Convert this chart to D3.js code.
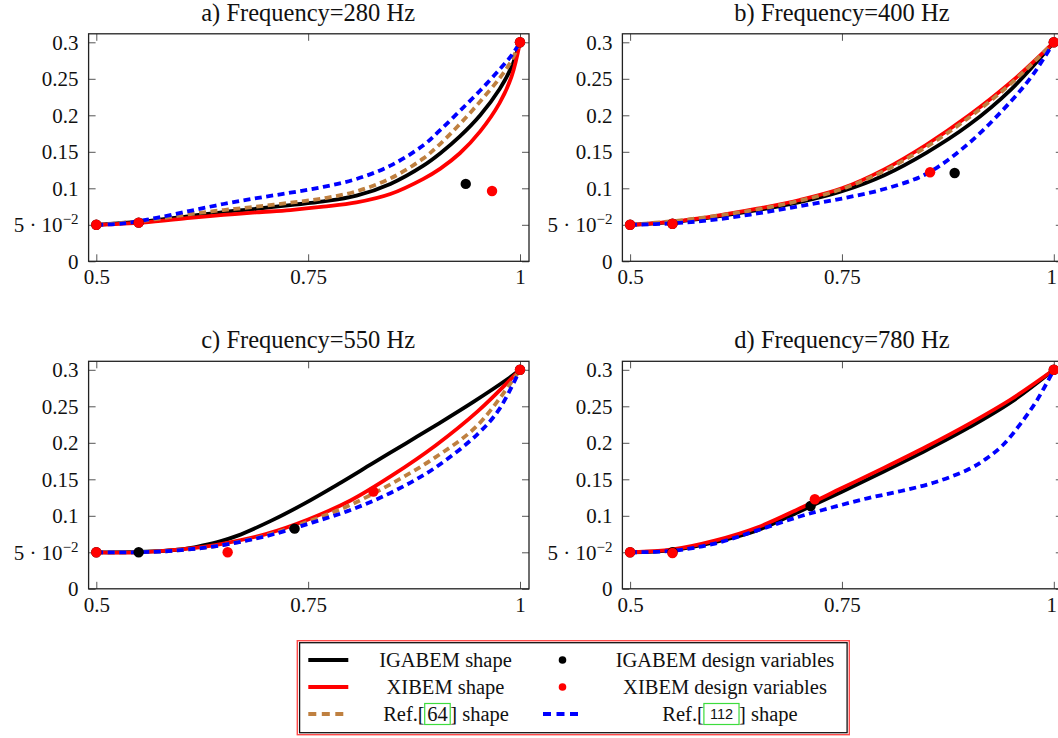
<!DOCTYPE html>
<html>
<head>
<meta charset="utf-8">
<script src="https://cdn.jsdelivr.net/npm/d3@7"></script>
<style>
  body { margin: 0; background: #fff; }
  svg { display: block; }
</style>
</head>
<body>
<svg id="chart" width="1058" height="738"></svg>
<script>
// ---- axis ticks ----
const xTicks = [0.5, 0.75, 1];
const xTickLabels = ["0.5", "0.75", "1"];
const yTicks = [0, 0.05, 0.1, 0.15, 0.2, 0.25, 0.3];
const yTickLabels = ["0", "5 · 10^−2", "0.1", "0.15", "0.2", "0.25", "0.3"];

const panelTitles = ["a) Frequency=280 Hz", "b) Frequency=400 Hz",
                     "c) Frequency=550 Hz", "d) Frequency=780 Hz"];

// ---- a) 280 Hz ----
const igabemShapeA = [[0.5,0.05],[0.555,0.0546],[0.611,0.062],[0.65,0.0675],[0.689,0.072],[0.729,0.077],[0.768,0.082],[0.807,0.09],[0.847,0.106],[0.886,0.131],[0.906,0.148],[0.929,0.171],[0.953,0.2],[0.976,0.236],[0.99,0.266],[1,0.3]];
const xibemShapeA  = [[0.5,0.05],[0.555,0.053],[0.611,0.0595],[0.65,0.0635],[0.689,0.067],[0.729,0.0702],[0.768,0.0748],[0.807,0.0807],[0.847,0.0922],[0.886,0.113],[0.906,0.127],[0.929,0.148],[0.953,0.178],[0.976,0.217],[0.99,0.253],[1,0.3]];
const ref64ShapeA  = [[0.5,0.05],[0.532,0.0528],[0.571,0.0578],[0.611,0.0647],[0.65,0.0702],[0.689,0.0748],[0.729,0.0803],[0.768,0.0862],[0.807,0.0959],[0.847,0.1135],[0.886,0.141],[0.906,0.161],[0.929,0.188],[0.953,0.219],[0.976,0.251],[0.99,0.275],[1,0.3]];
const ref112ShapeA = [[0.5,0.05],[0.532,0.0518],[0.571,0.0595],[0.611,0.0692],[0.65,0.0785],[0.689,0.0865],[0.729,0.094],[0.768,0.102],[0.807,0.1128],[0.847,0.131],[0.886,0.159],[0.906,0.18],[0.929,0.206],[0.953,0.234],[0.976,0.263],[0.99,0.282],[1,0.3]];
const igabemVarsA = [[0.5,0.05],[0.55,0.053],[0.936,0.106],[1,0.3]];
const xibemVarsA  = [[0.5,0.05],[0.55,0.053],[0.967,0.0963],[1,0.3]];

// ---- b) 400 Hz ----
const igabemShapeB = [[0.5,0.05],[0.55,0.054],[0.6,0.061],[0.65,0.07],[0.7,0.081],[0.75,0.096],[0.8,0.118],[0.85,0.149],[0.9,0.187],[0.95,0.236],[1,0.3]];
const xibemShapeB  = [[0.5,0.05],[0.55,0.0545],[0.6,0.062],[0.65,0.072],[0.7,0.084],[0.75,0.1],[0.8,0.126],[0.85,0.16],[0.9,0.2],[0.95,0.246],[1,0.3]];
const ref64ShapeB  = [[0.5,0.05],[0.55,0.055],[0.6,0.062],[0.65,0.071],[0.7,0.083],[0.75,0.099],[0.8,0.124],[0.85,0.157],[0.9,0.197],[0.95,0.244],[1,0.3]];
const ref112ShapeB = [[0.5,0.05],[0.55,0.052],[0.6,0.057],[0.65,0.0655],[0.7,0.0755],[0.75,0.086],[0.8,0.099],[0.85,0.12],[0.9,0.162],[0.95,0.22],[0.975,0.255],[1,0.3]];
const igabemVarsB = [[0.5,0.05],[0.55,0.0515],[0.883,0.121],[1,0.3]];
const xibemVarsB  = [[0.5,0.05],[0.55,0.0515],[0.854,0.122],[1,0.3]];

// ---- c) 550 Hz ----
const igabemShapeC = [[0.5,0.05],[0.55,0.0505],[0.6,0.054],[0.626,0.0595],[0.646,0.065],[0.666,0.0725],[0.706,0.093],[0.746,0.117],[0.785,0.143],[0.825,0.171],[0.865,0.199],[0.905,0.227],[0.945,0.256],[0.985,0.287],[1,0.3]];
const xibemShapeC  = [[0.5,0.05],[0.55,0.05],[0.6,0.054],[0.65,0.062],[0.7,0.075],[0.75,0.095],[0.8,0.121],[0.85,0.156],[0.9,0.196],[0.95,0.243],[1,0.3]];
const ref64ShapeC  = [[0.5,0.05],[0.55,0.05],[0.6,0.053],[0.65,0.06],[0.7,0.073],[0.75,0.092],[0.8,0.115],[0.85,0.145],[0.9,0.18],[0.95,0.224],[1,0.3]];
const ref112ShapeC = [[0.5,0.05],[0.55,0.05],[0.6,0.053],[0.65,0.06],[0.7,0.072],[0.75,0.089],[0.8,0.108],[0.85,0.133],[0.9,0.166],[0.95,0.212],[0.975,0.245],[1,0.3]];
const igabemVarsC = [[0.5,0.05],[0.55,0.05],[0.734,0.0824],[1,0.3]];
const xibemVarsC  = [[0.5,0.05],[0.655,0.05],[0.827,0.1333],[1,0.3]];

// ---- d) 780 Hz ----
const igabemShapeD = [[0.5,0.05],[0.55,0.053],[0.6,0.064],[0.65,0.08],[0.7,0.106],[0.75,0.133],[0.8,0.161],[0.85,0.19],[0.9,0.221],[0.95,0.256],[1,0.3]];
const xibemShapeD  = [[0.5,0.05],[0.55,0.054],[0.6,0.066],[0.65,0.084],[0.7,0.11],[0.75,0.138],[0.8,0.166],[0.85,0.195],[0.9,0.226],[0.95,0.26],[1,0.3]];
const ref64ShapeD  = [];
const ref112ShapeD = [[0.5,0.05],[0.55,0.052],[0.6,0.062],[0.65,0.08],[0.7,0.099],[0.74,0.112],[0.78,0.124],[0.82,0.134],[0.86,0.146],[0.9,0.164],[0.92,0.178],[0.94,0.197],[0.96,0.225],[0.98,0.258],[1,0.3]];
const igabemVarsD = [[0.5,0.05],[0.55,0.05],[0.713,0.1134],[1,0.3]];
const xibemVarsD  = [[0.5,0.05],[0.55,0.049],[0.718,0.1227],[1,0.3]];

const legendLabels = ["IGABEM shape", "XIBEM shape", "Ref.[64] shape",
                      "IGABEM design variables", "XIBEM design variables", "Ref.[112] shape"];

const panels = [
  { title: panelTitles[0], igabem: igabemShapeA, xibem: xibemShapeA, ref64: ref64ShapeA, ref112: ref112ShapeA, igabemVars: igabemVarsA, xibemVars: xibemVarsA },
  { title: panelTitles[1], igabem: igabemShapeB, xibem: xibemShapeB, ref64: ref64ShapeB, ref112: ref112ShapeB, igabemVars: igabemVarsB, xibemVars: xibemVarsB },
  { title: panelTitles[2], igabem: igabemShapeC, xibem: xibemShapeC, ref64: ref64ShapeC, ref112: ref112ShapeC, igabemVars: igabemVarsC, xibemVars: xibemVarsC },
  { title: panelTitles[3], igabem: igabemShapeD, xibem: xibemShapeD, ref64: ref64ShapeD, ref112: ref112ShapeD, igabemVars: igabemVarsD, xibemVars: xibemVarsD }
];

// ---- styles ----
const W = 1058;
const SERIF = "'Liberation Serif', 'Times New Roman', serif";
const SANS = "'Liberation Sans', Arial, sans-serif";
const COL = { black: "#000000", red: "#ff0000", brown: "#bf8040", blue: "#0000ff" };
const LW = 3.8;
const DASH = "7,4.5";
const LEGEND_DASH = "8,5.5";
const DOT_R = 5.2;

const svg = d3.select("#chart");

function drawPanel(p, i) {
  const col = i % 2, row = Math.floor(i / 2);
  const xLeft = col ? 630.1 : 96.3;
  const yBottom = row ? 588.8 : 261.3;
  const x = d3.scaleLinear().domain([0.5, 1]).range([xLeft, xLeft + 423.7]);
  const y = d3.scaleLinear().domain([0, 0.3]).range([yBottom, yBottom - 219]);

  const fL = x(0.5) - 7.7, fR = x(1) + 9, fT = y(0.3) - 8.5, fB = y(0);
  const g = svg.append("g");

  // inward ticks on all four sides
  const tickLen = 7;
  const axB = g.append("g").attr("transform", `translate(0,${fB})`)
    .call(d3.axisBottom(x).tickValues(xTicks).tickSize(-tickLen).tickPadding(8)
      .tickFormat((d, k) => xTickLabels[k]));
  const axT = g.append("g").attr("transform", `translate(0,${fT})`)
    .call(d3.axisTop(x).tickValues(xTicks).tickSize(-tickLen).tickFormat(""));
  const axL = g.append("g").attr("transform", `translate(${fL},0)`)
    .call(d3.axisLeft(y).tickValues(yTicks).tickSize(-tickLen).tickPadding(10)
      .tickFormat((d, k) => yTickLabels[k]));
  const axR = g.append("g").attr("transform", `translate(${fR},0)`)
    .call(d3.axisRight(y).tickValues(yTicks).tickSize(-tickLen).tickFormat(""));

  [axB, axT, axL, axR].forEach(a => {
    a.select(".domain").remove();
    a.selectAll(".tick line").attr("stroke", "#555").attr("stroke-width", 1);
    a.selectAll("text").attr("font-family", SERIF).attr("font-size", 21).attr("fill", "#111");
  });
  // keep bottom labels inside the drawing width
  axB.selectAll("text").each(function () {
    const b = this.getBoundingClientRect();
    if (b.right > W - 1) d3.select(this).attr("dx", -(b.right - (W - 1)));
  });
  // exponent labels such as 5 · 10^−2
  axL.selectAll("text").each(function () {
    const t = d3.select(this);
    const s = t.text();
    if (s.includes("^")) {
      const [base, exp] = s.split("^");
      t.text(base);
      t.append("tspan").attr("dy", -8).attr("font-size", 15).text(exp);
    }
  });

  // frame
  g.append("rect").attr("x", fL).attr("y", fT).attr("width", fR - fL).attr("height", fB - fT)
    .attr("fill", "none").attr("stroke", "#222").attr("stroke-width", 1.3);

  // title
  g.append("text").attr("x", (x(0.5) + x(1)) / 2).attr("y", fT - 13)
    .attr("text-anchor", "middle").attr("font-family", SERIF).attr("font-size", 24.5)
    .attr("fill", "#111").text(p.title);

  const line = d3.line().x(d => x(d[0])).y(d => y(d[1])).curve(d3.curveCatmullRom.alpha(0.5));
  const series = [
    { data: p.igabem, color: COL.black, dash: null },
    { data: p.xibem, color: COL.red, dash: null },
    { data: p.ref64, color: COL.brown, dash: DASH },
    { data: p.ref112, color: COL.blue, dash: DASH }
  ];
  series.forEach(s => {
    if (!s.data.length) return;
    g.append("path").datum(s.data).attr("d", line)
      .attr("fill", "none").attr("stroke", s.color).attr("stroke-width", LW)
      .attr("stroke-dasharray", s.dash).attr("stroke-linejoin", "round");
  });

  g.append("g").selectAll("circle").data(p.igabemVars).join("circle")
    .attr("cx", d => x(d[0])).attr("cy", d => y(d[1])).attr("r", DOT_R).attr("fill", COL.black);
  g.append("g").selectAll("circle").data(p.xibemVars).join("circle")
    .attr("cx", d => x(d[0])).attr("cy", d => y(d[1])).attr("r", DOT_R).attr("fill", COL.red);
}

panels.forEach(drawPanel);

// ---- legend ----
const lg = svg.append("g");
lg.append("rect").attr("x", 297.3).attr("y", 640.7).attr("width", 552).attr("height", 94)
  .attr("fill", "#fff").attr("stroke", "#ff4a4a").attr("stroke-width", 1.4);
lg.append("rect").attr("x", 299.6).attr("y", 642.7).attr("width", 547.5).attr("height", 90)
  .attr("fill", "none").attr("stroke", "#111").attr("stroke-width", 1.3);

const rowsY = [660, 687, 714];

// writes a label as consecutive pieces; pieces flagged "box" get a green frame
function richLabel(cx, cy, pieces) {
  const grp = lg.append("g");
  const nodes = pieces.map(pc => {
    const t = grp.append("text").attr("y", cy).attr("dy", "0.34em")
      .attr("font-family", pc.sans ? SANS : SERIF)
      .attr("font-size", pc.sans ? 14.5 : 20.5).attr("fill", "#111").text(pc.text);
    return { t, pc, w: t.node().getComputedTextLength() };
  });
  const pad = p => p.box ? (p.sans ? 6 : 2.5) : 0;
  const total = d3.sum(nodes, n => n.w + 2 * pad(n.pc));
  let cur = cx - total / 2;
  nodes.forEach(n => {
    const pd = pad(n.pc);
    if (n.pc.box) {
      grp.insert("rect", "text").attr("x", cur).attr("y", cy - 10.5)
        .attr("width", n.w + 2 * pd).attr("height", 21)
        .attr("fill", "none").attr("stroke", "#3ddc3d").attr("stroke-width", 1.2);
    }
    n.t.attr("x", cur + pd);
    cur += n.w + 2 * pd;
  });
}

// column 1: lines
[[COL.black, null], [COL.red, null], [COL.brown, LEGEND_DASH]].forEach((s, k) => {
  lg.append("line").attr("x1", 308.3).attr("x2", s[1] ? 343.3 : 348.3)
    .attr("y1", rowsY[k]).attr("y2", rowsY[k])
    .attr("stroke", s[0]).attr("stroke-width", LW).attr("stroke-dasharray", s[1]);
});
richLabel(445.5, rowsY[0], [{ text: legendLabels[0] }]);
richLabel(445.5, rowsY[1], [{ text: legendLabels[1] }]);
richLabel(446, rowsY[2], [{ text: "Ref.[" }, { text: "64", box: true }, { text: "] shape" }]);

// column 2: markers and Ref.[112]
lg.append("circle").attr("cx", 562.5).attr("cy", rowsY[0]).attr("r", 3.8).attr("fill", COL.black);
lg.append("circle").attr("cx", 562.5).attr("cy", rowsY[1]).attr("r", 3.8).attr("fill", COL.red);
lg.append("line").attr("x1", 543).attr("x2", 579).attr("y1", rowsY[2]).attr("y2", rowsY[2])
  .attr("stroke", COL.blue).attr("stroke-width", LW).attr("stroke-dasharray", LEGEND_DASH);
richLabel(725, rowsY[0], [{ text: legendLabels[3] }]);
richLabel(725, rowsY[1], [{ text: legendLabels[4] }]);
richLabel(730, rowsY[2], [{ text: "Ref.[" }, { text: "112", box: true, sans: true }, { text: "] shape" }]);
</script>
</body>
</html>
